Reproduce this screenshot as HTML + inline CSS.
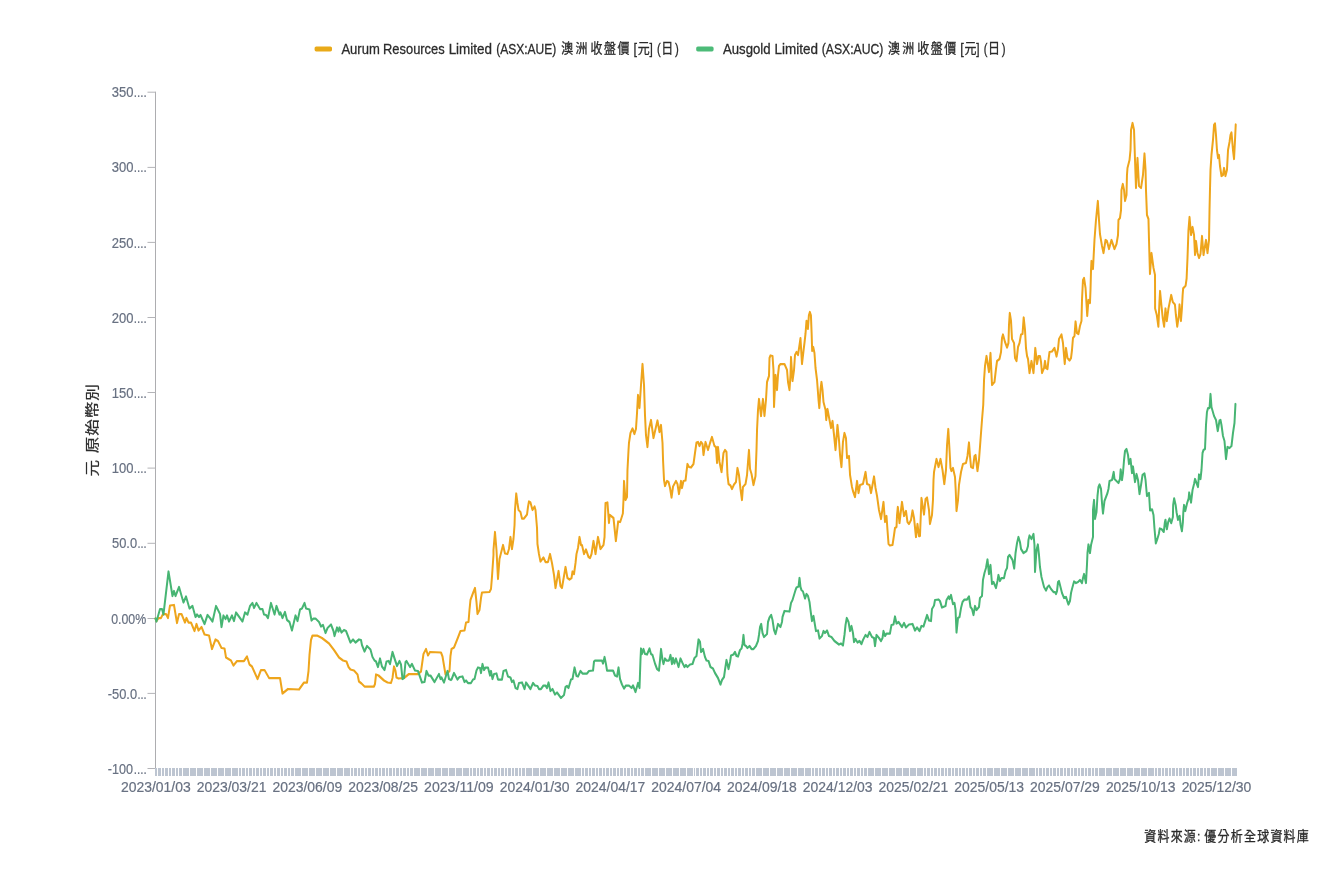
<!DOCTYPE html>
<html lang="zh-Hant">
<head>
<meta charset="utf-8">
<title>Aurum Resources Limited vs Ausgold Limited</title>
<style>
html,body{margin:0;padding:0;background:#fff;}
body{width:1320px;height:880px;overflow:hidden;}
svg{display:block;font-family:"Liberation Sans", "Noto Sans CJK TC", sans-serif;}
.lg{fill:#2b2b2b;stroke:#2b2b2b;stroke-width:0.3px;}
.ax{fill:#687182;stroke:#687182;stroke-width:0.22px;}
</style>
</head>
<body>
<svg width="1320" height="880" viewBox="0 0 1320 880">
<rect width="1320" height="880" fill="#ffffff"/>
<g id="legend">
<rect x="314.6" y="46.4" width="17.4" height="5" rx="1.6" fill="#e9aa18"/>
<text class="lg" x="341.40" y="54.0" font-size="15.3" textLength="38.41" lengthAdjust="spacingAndGlyphs">Aurum</text>
<text class="lg" x="383.05" y="54.0" font-size="15.3" textLength="61.62" lengthAdjust="spacingAndGlyphs">Resources</text>
<text class="lg" x="448.65" y="54.0" font-size="15.3" textLength="43.35" lengthAdjust="spacingAndGlyphs">Limited</text>
<text class="lg" x="496.20" y="54.0" font-size="15.3" textLength="60.12" lengthAdjust="spacingAndGlyphs">(ASX:AUE)</text>
<text class="lg" transform="translate(561.15,52.8) scale(0.886,1)" font-size="13.5" textLength="29.57" lengthAdjust="spacing">澳洲</text>
<text class="lg" transform="translate(590.50,52.8) scale(0.886,1)" font-size="13.5" textLength="44.04" lengthAdjust="spacing">收盤價</text>
<text class="lg" x="633.55" y="54.0" font-size="15.3" textLength="3.50" lengthAdjust="spacingAndGlyphs">[</text><text class="lg" transform="translate(637.80,52.8) scale(0.886,1)" font-size="13.5" textLength="11.63" lengthAdjust="spacing">元</text><text class="lg" x="649.40" y="54.0" font-size="15.3" textLength="3.31" lengthAdjust="spacingAndGlyphs">]</text>
<text class="lg" x="657.00" y="54.0" font-size="15.3" textLength="3.70" lengthAdjust="spacingAndGlyphs">(</text><text class="lg" transform="translate(661.15,52.8) scale(0.886,1)" font-size="13.5" textLength="10.50" lengthAdjust="spacing">日</text><text class="lg" x="674.95" y="54.0" font-size="15.3" textLength="3.81" lengthAdjust="spacingAndGlyphs">)</text>
<rect x="696.2" y="46.4" width="17.4" height="5" rx="1.6" fill="#4cbb78"/>
<text class="lg" x="723.00" y="54.0" font-size="15.3" textLength="47.56" lengthAdjust="spacingAndGlyphs">Ausgold</text>
<text class="lg" x="774.45" y="54.0" font-size="15.3" textLength="43.45" lengthAdjust="spacingAndGlyphs">Limited</text>
<text class="lg" x="821.70" y="54.0" font-size="15.3" textLength="61.62" lengthAdjust="spacingAndGlyphs">(ASX:AUC)</text>
<text class="lg" transform="translate(887.95,52.8) scale(0.886,1)" font-size="13.5" textLength="29.57" lengthAdjust="spacing">澳洲</text>
<text class="lg" transform="translate(917.30,52.8) scale(0.886,1)" font-size="13.5" textLength="43.96" lengthAdjust="spacing">收盤價</text>
<text class="lg" x="960.35" y="54.0" font-size="15.3" textLength="3.50" lengthAdjust="spacingAndGlyphs">[</text><text class="lg" transform="translate(964.60,52.8) scale(0.886,1)" font-size="13.5" textLength="11.63" lengthAdjust="spacing">元</text><text class="lg" x="976.20" y="54.0" font-size="15.3" textLength="3.31" lengthAdjust="spacingAndGlyphs">]</text>
<text class="lg" x="983.80" y="54.0" font-size="15.3" textLength="3.70" lengthAdjust="spacingAndGlyphs">(</text><text class="lg" transform="translate(987.95,52.8) scale(0.886,1)" font-size="13.5" textLength="10.50" lengthAdjust="spacing">日</text><text class="lg" x="1001.75" y="54.0" font-size="15.3" textLength="3.81" lengthAdjust="spacingAndGlyphs">)</text>
</g>
<g id="yaxis">
<path d="M155.5,91.7 V769.0" stroke="#adadb0" stroke-width="1" fill="none"/>
<text class="ax" x="111.75" y="96.7" font-size="15.3" textLength="21.71" lengthAdjust="spacingAndGlyphs">350</text><text class="ax" x="133.85" y="96.7" font-size="15.3" textLength="12.93" lengthAdjust="spacingAndGlyphs">....</text>
<text class="ax" x="111.75" y="171.8" font-size="15.3" textLength="21.71" lengthAdjust="spacingAndGlyphs">300</text><text class="ax" x="133.85" y="171.8" font-size="15.3" textLength="12.93" lengthAdjust="spacingAndGlyphs">....</text>
<text class="ax" x="111.75" y="247.7" font-size="15.3" textLength="21.71" lengthAdjust="spacingAndGlyphs">250</text><text class="ax" x="133.85" y="247.7" font-size="15.3" textLength="12.93" lengthAdjust="spacingAndGlyphs">....</text>
<text class="ax" x="111.75" y="322.7" font-size="15.3" textLength="21.71" lengthAdjust="spacingAndGlyphs">200</text><text class="ax" x="133.85" y="322.7" font-size="15.3" textLength="12.93" lengthAdjust="spacingAndGlyphs">....</text>
<text class="ax" x="111.75" y="397.7" font-size="15.3" textLength="21.71" lengthAdjust="spacingAndGlyphs">150</text><text class="ax" x="133.85" y="397.7" font-size="15.3" textLength="12.93" lengthAdjust="spacingAndGlyphs">....</text>
<text class="ax" x="111.75" y="472.7" font-size="15.3" textLength="21.71" lengthAdjust="spacingAndGlyphs">100</text><text class="ax" x="133.85" y="472.7" font-size="15.3" textLength="12.93" lengthAdjust="spacingAndGlyphs">....</text>
<text class="ax" x="112.00" y="547.7" font-size="15.3" textLength="25.08" lengthAdjust="spacingAndGlyphs">50.0</text><text class="ax" x="137.45" y="547.7" font-size="15.3" textLength="9.07" lengthAdjust="spacingAndGlyphs">...</text>
<text class="ax" x="111.15" y="623.7" font-size="15.3" textLength="35.01" lengthAdjust="spacingAndGlyphs">0.00%</text>
<text class="ax" x="107.75" y="698.8" font-size="15.3" textLength="29.31" lengthAdjust="spacingAndGlyphs">-50.0</text><text class="ax" x="137.45" y="698.8" font-size="15.3" textLength="9.07" lengthAdjust="spacingAndGlyphs">...</text>
<text class="ax" x="107.75" y="773.7" font-size="15.3" textLength="25.21" lengthAdjust="spacingAndGlyphs">-100</text><text class="ax" x="133.85" y="773.7" font-size="15.3" textLength="12.93" lengthAdjust="spacingAndGlyphs">....</text>
<path d="M147.5,92.2H155.5M147.5,167.4H155.5M147.5,242.4H155.5M147.5,317.5H155.5M147.5,392.5H155.5M147.5,468.1H155.5M147.5,543.3H155.5M147.5,618.5H155.5M147.5,693.4H155.5M147.5,768.5H155.5" stroke="#b4b4b8" stroke-width="1" fill="none"/>
<text class="lg" transform="translate(97.4,476.4) scale(0.83,1) rotate(-90)" font-size="16.6" textLength="92.2" lengthAdjust="spacing">元 原始幣別</text>
</g>
<g id="xaxis">
<rect x="155" y="768" width="1082" height="8" fill="#bdc5d1"/>
<path d="M157.5,767.5v9M161.5,767.5v9M164.5,767.5v9M168.5,767.5v9M171.5,767.5v9M175.5,767.5v9M178.5,767.5v9M182.5,767.5v9M189.5,767.5v9M196.5,767.5v9M203.5,767.5v9M210.5,767.5v9M217.5,767.5v9M224.5,767.5v9M231.5,767.5v9M238.5,767.5v9M241.5,767.5v9M245.5,767.5v9M248.5,767.5v9M252.5,767.5v9M255.5,767.5v9M259.5,767.5v9M262.5,767.5v9M266.5,767.5v9M269.5,767.5v9M273.5,767.5v9M276.5,767.5v9M280.5,767.5v9M283.5,767.5v9M287.5,767.5v9M290.5,767.5v9M294.5,767.5v9M301.5,767.5v9M308.5,767.5v9M315.5,767.5v9M322.5,767.5v9M329.5,767.5v9M336.5,767.5v9M343.5,767.5v9M350.5,767.5v9M353.5,767.5v9M357.5,767.5v9M360.5,767.5v9M364.5,767.5v9M367.5,767.5v9M371.5,767.5v9M374.5,767.5v9M378.5,767.5v9M381.5,767.5v9M385.5,767.5v9M388.5,767.5v9M392.5,767.5v9M395.5,767.5v9M399.5,767.5v9M402.5,767.5v9M406.5,767.5v9M409.5,767.5v9M413.5,767.5v9M420.5,767.5v9M427.5,767.5v9M434.5,767.5v9M441.5,767.5v9M448.5,767.5v9M455.5,767.5v9M462.5,767.5v9M469.5,767.5v9M472.5,767.5v9M476.5,767.5v9M479.5,767.5v9M483.5,767.5v9M486.5,767.5v9M490.5,767.5v9M493.5,767.5v9M497.5,767.5v9M500.5,767.5v9M504.5,767.5v9M507.5,767.5v9M511.5,767.5v9M514.5,767.5v9M518.5,767.5v9M521.5,767.5v9M525.5,767.5v9M532.5,767.5v9M539.5,767.5v9M546.5,767.5v9M553.5,767.5v9M560.5,767.5v9M567.5,767.5v9M574.5,767.5v9M581.5,767.5v9M584.5,767.5v9M588.5,767.5v9M591.5,767.5v9M595.5,767.5v9M598.5,767.5v9M602.5,767.5v9M605.5,767.5v9M609.5,767.5v9M612.5,767.5v9M616.5,767.5v9M619.5,767.5v9M623.5,767.5v9M626.5,767.5v9M630.5,767.5v9M633.5,767.5v9M637.5,767.5v9M640.5,767.5v9M644.5,767.5v9M651.5,767.5v9M658.5,767.5v9M665.5,767.5v9M672.5,767.5v9M679.5,767.5v9M686.5,767.5v9M693.5,767.5v9M695.5,767.5v9M699.5,767.5v9M702.5,767.5v9M706.5,767.5v9M709.5,767.5v9M713.5,767.5v9M716.5,767.5v9M720.5,767.5v9M723.5,767.5v9M727.5,767.5v9M730.5,767.5v9M734.5,767.5v9M737.5,767.5v9M741.5,767.5v9M744.5,767.5v9M748.5,767.5v9M751.5,767.5v9M755.5,767.5v9M762.5,767.5v9M769.5,767.5v9M776.5,767.5v9M783.5,767.5v9M790.5,767.5v9M797.5,767.5v9M804.5,767.5v9M811.5,767.5v9M814.5,767.5v9M818.5,767.5v9M821.5,767.5v9M825.5,767.5v9M828.5,767.5v9M832.5,767.5v9M835.5,767.5v9M839.5,767.5v9M842.5,767.5v9M846.5,767.5v9M849.5,767.5v9M853.5,767.5v9M856.5,767.5v9M860.5,767.5v9M863.5,767.5v9M867.5,767.5v9M874.5,767.5v9M881.5,767.5v9M888.5,767.5v9M895.5,767.5v9M902.5,767.5v9M909.5,767.5v9M916.5,767.5v9M923.5,767.5v9M926.5,767.5v9M930.5,767.5v9M933.5,767.5v9M937.5,767.5v9M940.5,767.5v9M944.5,767.5v9M947.5,767.5v9M951.5,767.5v9M954.5,767.5v9M958.5,767.5v9M961.5,767.5v9M965.5,767.5v9M968.5,767.5v9M972.5,767.5v9M975.5,767.5v9M979.5,767.5v9M982.5,767.5v9M986.5,767.5v9M993.5,767.5v9M1000.5,767.5v9M1007.5,767.5v9M1014.5,767.5v9M1021.5,767.5v9M1028.5,767.5v9M1035.5,767.5v9M1038.5,767.5v9M1042.5,767.5v9M1045.5,767.5v9M1049.5,767.5v9M1052.5,767.5v9M1056.5,767.5v9M1059.5,767.5v9M1063.5,767.5v9M1066.5,767.5v9M1070.5,767.5v9M1073.5,767.5v9M1077.5,767.5v9M1080.5,767.5v9M1084.5,767.5v9M1087.5,767.5v9M1091.5,767.5v9M1094.5,767.5v9M1098.5,767.5v9M1105.5,767.5v9M1112.5,767.5v9M1119.5,767.5v9M1126.5,767.5v9M1133.5,767.5v9M1140.5,767.5v9M1147.5,767.5v9M1154.5,767.5v9M1157.5,767.5v9M1161.5,767.5v9M1164.5,767.5v9M1168.5,767.5v9M1171.5,767.5v9M1175.5,767.5v9M1178.5,767.5v9M1182.5,767.5v9M1185.5,767.5v9M1189.5,767.5v9M1192.5,767.5v9M1196.5,767.5v9M1199.5,767.5v9M1203.5,767.5v9M1206.5,767.5v9M1210.5,767.5v9M1217.5,767.5v9M1224.5,767.5v9M1231.5,767.5v9" stroke="#ffffff" stroke-width="1" fill="none"/>
<text class="ax" x="121.00" y="791.6" font-size="15.3" textLength="69.71" lengthAdjust="spacingAndGlyphs">2023/01/03</text>
<text class="ax" x="196.76" y="791.6" font-size="15.3" textLength="69.71" lengthAdjust="spacingAndGlyphs">2023/03/21</text>
<text class="ax" x="272.52" y="791.6" font-size="15.3" textLength="69.71" lengthAdjust="spacingAndGlyphs">2023/06/09</text>
<text class="ax" x="348.28" y="791.6" font-size="15.3" textLength="69.71" lengthAdjust="spacingAndGlyphs">2023/08/25</text>
<text class="ax" x="424.04" y="791.6" font-size="15.3" textLength="69.71" lengthAdjust="spacingAndGlyphs">2023/11/09</text>
<text class="ax" x="499.80" y="791.6" font-size="15.3" textLength="69.71" lengthAdjust="spacingAndGlyphs">2024/01/30</text>
<text class="ax" x="575.56" y="791.6" font-size="15.3" textLength="69.71" lengthAdjust="spacingAndGlyphs">2024/04/17</text>
<text class="ax" x="651.32" y="791.6" font-size="15.3" textLength="69.71" lengthAdjust="spacingAndGlyphs">2024/07/04</text>
<text class="ax" x="727.08" y="791.6" font-size="15.3" textLength="69.71" lengthAdjust="spacingAndGlyphs">2024/09/18</text>
<text class="ax" x="802.84" y="791.6" font-size="15.3" textLength="69.71" lengthAdjust="spacingAndGlyphs">2024/12/03</text>
<text class="ax" x="878.60" y="791.6" font-size="15.3" textLength="69.71" lengthAdjust="spacingAndGlyphs">2025/02/21</text>
<text class="ax" x="954.36" y="791.6" font-size="15.3" textLength="69.71" lengthAdjust="spacingAndGlyphs">2025/05/13</text>
<text class="ax" x="1030.12" y="791.6" font-size="15.3" textLength="69.71" lengthAdjust="spacingAndGlyphs">2025/07/29</text>
<text class="ax" x="1105.88" y="791.6" font-size="15.3" textLength="69.71" lengthAdjust="spacingAndGlyphs">2025/10/13</text>
<text class="ax" x="1181.64" y="791.6" font-size="15.3" textLength="69.71" lengthAdjust="spacingAndGlyphs">2025/12/30</text>
</g>
<g id="source">
<text class="lg" transform="translate(1144.25,840.85) scale(0.886,1)" font-size="13.5" textLength="63.37" lengthAdjust="spacing">資料來源:</text>
<text class="lg" transform="translate(1204.25,840.85) scale(0.886,1)" font-size="13.5" textLength="118.02" lengthAdjust="spacing">優分析全球資料庫</text>
</g>
<g id="series" transform="scale(0.885,1)" fill="none" stroke-width="2.25" stroke-linejoin="round" stroke-linecap="round">
<path d="M175.7,618.5 L176.8,621 L179.1,618 L181.9,618 L184.2,614 L187.6,614 L189.8,618 L192.1,605.5 L196.6,605 L200,623 L202.3,614 L205.1,614 L209,622.5 L210.7,618 L213,622.5 L215.8,622.5 L219.8,631 L222,624 L224.3,630.5 L227.7,627 L231.1,634.5 L236.2,635.5 L239.5,649 L243.5,639.5 L246.3,641 L250.3,648 L253.7,648.5 L255.4,657.5 L261,660.5 L263.8,665.5 L267.8,661 L275.7,661 L279.1,656.5 L281.9,664.5 L284.7,666.5 L291,679 L294.9,670 L298.9,670 L304,678 L316.4,678 L319.2,693.5 L325.4,689 L337.9,689.5 L343.5,682.5 L346.9,682.5 L348.6,671 L349.7,655 L351.4,640 L353.1,635.5 L358.2,635.5 L363.8,638 L371.8,643.5 L377.4,650 L383.1,657.5 L387.6,660.5 L391.5,661.5 L393.8,667 L396,669.5 L400,670.5 L404,674.5 L405.6,681.5 L408.5,683.5 L411.9,686.5 L422.6,686.5 L423.7,684 L424.9,674.5 L427.7,675.5 L433.9,680.5 L437.9,682.5 L441.8,683 L443.5,678 L445.2,666.5 L446.9,671 L448,677.5 L450.3,678.5 L456.5,678 L462.1,674 L472.3,674 L475.7,671.5 L478.5,654 L481.4,649 L483.6,655.5 L485.9,652 L498.3,652.5 L500,656.5 L503.4,674.5 L507.9,671 L509,656 L510.2,649 L513,647.5 L517.5,637.5 L520.3,631 L524.9,630.5 L526.6,622.5 L529.4,622 L530.5,610 L531.6,600 L534.5,593 L536.7,588 L538.4,602 L539.5,614 L541.8,610 L543.5,598 L544.6,592.5 L553.1,592 L554.8,589 L555.9,577 L557.6,555 L557.6,550 L559.3,532 L561,550 L562.7,579 L564.4,559 L568.4,545 L570.6,553.5 L573.4,554 L575.1,549 L576.8,537 L578.5,549 L580.2,539 L581.4,525 L581.9,510 L583.3,493.5 L584.7,503 L585.9,510 L588.1,512 L589.8,518.5 L592.1,518.5 L595.5,514.5 L596.6,507 L597.7,501.5 L599.4,502.5 L601.7,510 L604,506.5 L605.1,510 L606.8,528 L607.3,544 L609,554 L610.7,561.5 L614.1,557.5 L616.4,562 L619.2,562 L621.5,554 L623.7,563 L623.7,563 L626,575 L627.7,588 L631.1,571 L633.3,586 L635,588 L639,567 L641.2,578 L643.5,579.5 L645.8,578 L646.9,571.5 L648.6,574 L650.3,563 L651.4,554 L653.1,548 L654.8,537 L656.5,545 L657.6,545 L659.9,554 L662.1,549.5 L665,557 L666.7,558 L668.4,554 L670.6,541 L672.9,554 L675.7,537 L678.5,549 L681.9,545 L683.1,537 L683.6,520 L684.2,503 L686.4,502.5 L688.1,523 L689,514.8 L693.2,518 L695.9,541 L698.5,521.5 L700.8,522 L703.8,513.5 L704.5,500 L705.1,481 L706.8,500 L708.5,497 L709,470 L710.2,450 L710.7,443 L712.4,433 L714.7,428.5 L716.9,434 L718.6,429 L719.8,413 L720.9,395 L722.6,408 L724.3,385 L726,364 L727.7,385 L728.8,415 L729.9,435 L731.6,447 L733.3,429 L735.6,420 L738.4,438 L741.2,427 L742.9,420.5 L745.2,432 L746.9,425 L748.6,443 L749.2,460 L750.3,480 L751.4,486 L753.7,481 L755.4,482 L757.1,488 L758.8,497.5 L760.5,486.5 L763.8,481 L765.5,484 L767.2,494 L769.5,481 L770.6,488 L772.3,481 L774.6,480.5 L775.7,472 L776.8,464 L778.5,467 L780.8,467.5 L783.6,464 L785.3,453 L787,442.5 L788.7,442 L790.4,446 L792.1,442 L793.8,444 L794.9,455 L797.2,442 L800,450 L802.3,443 L804.5,437 L807.3,446 L809,447 L810.2,463 L811.3,447 L813,462 L815.3,472 L817.5,453 L819.2,450 L820.9,452 L822,475 L823.2,484 L825.4,485.5 L827.1,489 L829.4,484.5 L831.6,482 L833.3,468 L835,475 L836.7,489 L838.4,500 L839.5,487 L842.4,484 L844.1,475 L845.2,462 L846.3,450 L847.5,469 L849.2,474 L851.4,485 L853.7,476 L854.8,450 L855.4,430 L856.5,410 L857.6,399 L859.9,416 L862.1,399 L863.8,416 L865.5,400 L866.7,382 L868.9,376 L869.5,358 L870.6,355.5 L872.9,356 L874,370 L874.6,407 L876.3,375 L878,390 L879.1,375 L880.2,366 L881.9,364 L886.4,364 L889.3,370 L890.4,382 L892.1,390 L893.2,375 L893.8,357 L895.5,381 L897.2,370 L898.3,355 L900,352 L901.7,355 L903.4,345 L904.5,338.2 L906.2,364 L907.9,351 L909,343 L910.2,333.5 L911.3,320.8 L912.9,328.8 L914,315.4 L915.1,312 L916.3,315.4 L917.1,333.5 L917.7,351 L918.9,347 L920.3,353 L921.5,368 L923.2,380 L924.9,400 L925.8,408 L927.1,390 L928.2,382 L929.4,390 L930.5,402 L932.8,410 L933.6,420 L935,409 L937.3,420 L939,428 L940.7,421 L942.4,435 L944.1,450 L946.3,425 L948,440 L949.2,455 L950.8,467 L952.5,442 L954.2,433 L955.9,438 L957.1,458 L959.3,456 L960.5,475 L962.7,487 L963.8,491 L966.1,497 L968.4,481 L970.1,493 L971.8,485 L975.1,484 L978,472 L979.7,484 L982.5,485 L984.2,493 L987.6,476.5 L989.3,488 L991,496 L993.2,510 L995.5,519 L998.3,502 L1000,522 L1001.7,516 L1002.8,530 L1004,544 L1005.6,545.5 L1008.5,545 L1010.2,535 L1011.3,528 L1013,527 L1013.6,515 L1014.5,507 L1016.4,523 L1018.1,510 L1019.2,502 L1021.5,516 L1023.7,511 L1025.4,522 L1027.1,524 L1029.4,520 L1031.1,510.5 L1032.8,518 L1035,537 L1036.7,524 L1038.4,536 L1039.5,536 L1040.7,510 L1041.2,498 L1044.1,514.5 L1045.8,499 L1047.5,497.5 L1049.7,510 L1050.8,524 L1053.1,515 L1054.2,500 L1054.8,480 L1055.4,472 L1058.2,459 L1060.5,467 L1062.7,459 L1065,470 L1067,484 L1068.9,470 L1070.1,445 L1071.5,429 L1072.9,450 L1074,468 L1075.1,471 L1076.8,468 L1079.1,477 L1079.9,490 L1080.8,511 L1082.5,500 L1083.6,485 L1085.9,472 L1088.1,464 L1091.5,463 L1093.2,456 L1094.9,442.5 L1096,456 L1097.2,467 L1099.4,468 L1101.1,456 L1102.3,455 L1104.5,471 L1106.2,460 L1107.9,440 L1109.6,420 L1111,405 L1111.9,380 L1113,366 L1114.7,356 L1117.5,372 L1119.2,353 L1120.9,385 L1123.7,382 L1125.4,369 L1126.6,361 L1129.4,359 L1131.1,352 L1132.2,338 L1133.3,334.5 L1135.6,342 L1137.9,347.5 L1139.5,343 L1140.1,325 L1141,313 L1142.4,321 L1143.5,339 L1145.8,343 L1146.9,358 L1148.6,361 L1150.3,347 L1152,343 L1153.7,334.5 L1155.4,334 L1156.7,317.5 L1158.2,330 L1159.3,348 L1160.5,356 L1161.6,359 L1163.3,373 L1165.5,361 L1167.8,373 L1168.9,360 L1169.8,348 L1171.8,364 L1173.4,356 L1175.1,356 L1176.3,362 L1177.4,373 L1179.7,368 L1180.8,361 L1181.9,368 L1183.6,369 L1184.7,360 L1185.9,352 L1188.7,351.5 L1191.5,348 L1193.8,356.5 L1195.5,349 L1196.6,339 L1199.4,334.5 L1201.1,343 L1202.3,356 L1203.1,364 L1204.5,348 L1206.2,358 L1208.5,360.5 L1210.2,358 L1211.3,350 L1212.4,338 L1214.1,336 L1215.3,321.5 L1216.9,333 L1218.6,334 L1220.3,326 L1222,321 L1222.6,300 L1223.7,280 L1224.9,278 L1226.6,288 L1227.7,304 L1228.5,316 L1229.9,300 L1231.6,303 L1232.2,290 L1232.8,270 L1233.3,261 L1235,269 L1236.7,240 L1238.4,220 L1240.5,201 L1241.8,220 L1242.9,234 L1245.2,246 L1246.9,253 L1249.2,240 L1250.8,241 L1253.1,249 L1255.9,240 L1259.3,249 L1261.6,244 L1263.3,235 L1263.8,220 L1265.5,218 L1266.7,210 L1267.2,190 L1268.7,184 L1270.1,190 L1271.2,201 L1272.9,195 L1273.4,175 L1274,168 L1276.3,160 L1277.4,150 L1278,130 L1279.7,123 L1281.4,130 L1282.5,160 L1283.6,188 L1285.3,158 L1287,186 L1289.3,188 L1291.5,175 L1293.2,153.5 L1294.4,170 L1294.9,190 L1296,215 L1297.7,219 L1298.3,240 L1299.4,274 L1301.1,253 L1303.4,268 L1305.1,275 L1305.2,308.5 L1307.1,315 L1308.9,326.6 L1310.1,302 L1310.8,291 L1312.3,305 L1313.9,318.5 L1315.4,326.6 L1316.9,308.5 L1318.4,321 L1320.3,308.5 L1321.8,302 L1323.4,295 L1325.2,302 L1327.6,304.5 L1328.7,315 L1330.2,326.6 L1332.1,315 L1332.8,304.5 L1334.4,321 L1335.5,308.5 L1336.3,295 L1336.9,288.4 L1339.7,285.7 L1340.8,278.5 L1341.8,258 L1342.9,230 L1344.1,217 L1345.8,235 L1347.5,227 L1349.2,235 L1350.3,255 L1351.4,241 L1353.1,253 L1354.8,258 L1356.5,254 L1358.2,236 L1359.9,255 L1362.7,240 L1364.4,253 L1366.1,240 L1366.7,210 L1367.2,190 L1367.8,170 L1368.9,155 L1370.6,140 L1371.8,125 L1372.9,123.5 L1374,135 L1375.1,150 L1376.3,158 L1377.4,155 L1378.5,166 L1380.2,176 L1381.9,175 L1383.1,168 L1384.7,176 L1386.4,170 L1387.6,150 L1389.3,142 L1390.4,135 L1391.5,132.5 L1393.2,150 L1394.4,159 L1395.5,140 L1396.3,124.5" stroke="#eea51c"/>
<path d="M175.7,618.5 L176.8,621.5 L180.8,609 L183.1,609 L184.7,614.5 L190.4,571.5 L194.9,596 L196.6,591 L198.3,596 L202.3,587 L207.3,602.5 L210.2,596.5 L214.1,608.5 L217.5,606 L220.9,617 L222.6,614.5 L224.9,617 L226.6,615 L231.1,624 L234.5,615 L237.3,618 L240.1,621.5 L244.1,606 L248.6,614 L250.3,627 L252.5,615.5 L254.8,619 L256.5,615.5 L258.8,621.5 L262.1,615.5 L264.4,621 L266.7,612.5 L274,621.5 L276.8,612.5 L279.7,614.5 L282.5,606 L285.3,603 L287,608 L289.8,603 L293.8,609 L296.6,609 L298.3,614.5 L300.6,615 L302.8,618 L306.2,603 L310.2,614.5 L312.4,606 L315.8,614.5 L316.9,612.5 L319.2,618 L322,612 L324.3,620 L327.1,622 L329.9,630.5 L333.9,615.5 L336.2,621 L339,609.5 L341.2,608.5 L344.1,603 L345.8,608.5 L349.7,609.5 L352,620.5 L354.2,618.5 L356.5,618.5 L360.5,622 L362.7,626.5 L365,625 L367.8,633 L370.1,628 L374,624.5 L376.8,631 L378,636 L380.8,627.5 L382.5,631.5 L383.6,627.5 L385.9,632.5 L388.7,630 L391,631 L396,642.5 L398.9,639.5 L401.7,642.5 L405.6,639.5 L407.9,640 L409,645 L411.9,651.5 L414.7,646 L418.6,649.5 L420.9,657 L423.2,660.5 L424.9,661.5 L427.1,667 L429.4,658.5 L431.6,666.5 L434.5,670 L436.7,661.5 L439,661 L440.7,664 L443.5,652 L445.8,658.5 L448.6,666 L451.4,661 L453.1,664.5 L454.8,679 L456.5,678 L458.2,662 L459.3,661 L463.3,667 L465.5,664 L468.9,670.5 L472.3,671 L476.8,682.5 L479.7,682 L481.9,671 L484.2,675.5 L486.4,675.5 L491,682 L496,674 L497.7,679 L498.9,677.5 L501.7,682.5 L505.6,671 L507.3,679 L509.6,680 L510.2,679.5 L513,673 L516.9,679.5 L519.2,677 L522.6,676.5 L524.9,682 L526.6,680.5 L528.8,683 L532.2,683 L534.5,679.5 L536.2,679 L538.4,670.5 L540.1,667.5 L542.4,668 L543.5,673 L545.2,664 L546.9,670 L548.6,667.5 L551.4,667.5 L553.7,675.5 L554.8,671 L556.5,679 L558.2,674 L561,673.5 L562.7,679.5 L567.2,679.5 L568.9,671 L571.8,670 L574,676.5 L576.8,677.5 L578.5,682 L580.2,680.5 L582.5,688 L584.7,689 L586.4,683 L589.8,682.5 L592.7,689 L594.4,682.5 L599.4,689 L602.3,683 L604.5,685.5 L607.3,686 L609,689 L611.3,689 L614.1,685.5 L616.4,685.5 L618.1,688 L619.8,682.5 L622,691 L624.3,689 L627.1,694.5 L629.4,692.5 L633.9,698 L637.3,695 L639,687 L640.7,686 L642.4,688 L645.2,679.5 L646.9,679 L649.2,667.5 L651.4,676 L653.1,676.5 L655.9,671 L658.2,673.5 L663.3,673.5 L665.5,671 L670.1,670.5 L671.2,661.5 L672.3,660.5 L680.2,660.5 L681.4,663.5 L683.1,657 L684.7,664 L685.9,670.5 L692.7,670.5 L694.9,675.5 L697.2,676.5 L698.9,667.5 L700.6,679 L702.8,684.5 L705.1,688.5 L707.3,685.5 L710.7,685.5 L713.6,688 L715.3,685.5 L718.1,692 L720.9,683 L722.6,688 L723.7,660 L724.3,648.5 L725.4,654 L727.1,649 L728.8,654 L731.1,654.5 L733.9,648.5 L735.6,654 L737.3,655 L740.1,663.5 L742.4,669 L744.6,670.5 L745.8,660 L746.9,649 L748.6,660 L749.7,664 L751.4,658.5 L753.1,660.5 L755.9,660.5 L757.6,655 L759.3,664 L760.5,658 L762.1,663.5 L763.8,658.5 L766.7,667 L768.9,658.5 L771.2,663 L773.4,667 L775.1,665 L776.8,667 L779.7,664.5 L782.5,664 L784.7,658 L787,656 L789.3,639.5 L791,642 L792.1,652 L794.4,649 L796.6,657 L798.3,660.5 L800.6,661 L802.8,667 L805.6,668.5 L807.9,673 L811.3,678 L814.1,684.5 L815.8,680 L818.1,677 L819.2,670 L820.9,660 L823.2,669 L824.9,662 L826,655.5 L828.8,654.5 L830.5,652 L832.2,656 L833.9,656.5 L836.2,650 L837.9,648.5 L839,644 L840.1,635 L841.2,645 L842.9,646 L844.6,648 L846.9,646 L849.2,649 L851.4,649 L854.2,646 L856.5,641 L857.6,635 L858.8,627 L860.1,624 L861.6,633 L863.3,637 L866.7,634 L867.8,622 L869.5,617.5 L871.4,615 L872.9,620 L874.6,630 L876.3,634 L879.1,624 L881.9,627 L883.6,622 L884.2,617 L886.4,611 L892.1,611.5 L893.8,603 L895.5,600 L898.9,590 L900,587.5 L902.3,586.5 L903.4,578 L904.5,587 L905.6,590 L907.3,591.5 L909.6,598.5 L911.3,594 L913,596 L914.7,602 L915.8,610 L917.5,621 L919.2,616 L920.3,622 L922,631 L924.3,630.5 L926,638.5 L928.8,636 L930.5,631 L932.2,633 L934.5,630.5 L936.7,636 L939.5,637 L942.9,641 L948,644.5 L950.3,643.5 L952.5,645.5 L954.2,635 L955.4,625 L956.8,618 L958.8,622 L960.5,631 L962.1,626 L963.8,633 L965,642 L966.7,639 L968.9,642.5 L971.2,641 L973.4,644 L975.1,640 L978,635 L980.2,637 L982.5,632 L985.3,637 L987.6,638 L988.7,646 L990.4,635 L993.2,638 L995.5,641 L997.2,638 L998.3,631 L1000,636 L1001.7,633.5 L1005.6,633.5 L1007.3,625 L1009.6,624.5 L1011.3,616.5 L1013,623.5 L1015.3,622 L1019.2,627 L1021.5,623 L1023.7,627.5 L1027.1,624.5 L1031.1,624 L1033.9,630.5 L1036.2,627.5 L1039,631 L1041.2,626 L1043.5,626.5 L1045.8,620 L1047.5,615 L1049.7,620.5 L1052,621 L1053.1,609 L1055.4,605.5 L1056.5,600 L1060.5,599.5 L1062.1,601 L1064.4,607.5 L1068.4,606 L1069.5,600 L1071.8,596.5 L1072.9,599 L1074.6,595 L1076.8,604 L1078.5,603 L1079.7,610 L1080.8,632.5 L1082.5,618 L1084.2,617 L1085.9,608 L1087.6,602 L1089.8,599.5 L1092.7,599.5 L1094.9,596.5 L1096.6,607 L1098.3,609 L1100,615 L1101.7,606 L1103.4,610 L1106.2,607 L1107.3,598 L1109.6,596 L1110.7,580 L1112.4,573 L1114.1,568 L1115.8,559.5 L1117.5,574 L1119.2,565 L1120.9,584 L1122.6,582 L1125.4,588 L1127.1,581 L1128.2,575 L1129.9,581 L1131.6,578 L1134.5,578 L1136.2,571 L1137.9,568 L1139,557 L1140.7,555 L1144.1,560 L1146,568.5 L1147.5,553 L1149.2,543 L1150.8,537 L1152.5,542 L1153.7,549 L1156.5,553 L1159.9,551 L1161.6,546 L1162.1,540 L1163.3,535.5 L1165.5,539 L1167.8,534 L1168.9,545 L1169.5,572 L1171.2,550 L1172.7,544.5 L1174,555 L1175.1,567 L1176.8,577 L1179.7,587 L1181.9,590.5 L1183.6,587 L1185.3,585.5 L1187.6,589 L1190.4,592 L1192.1,592 L1193.2,594 L1194.4,591 L1195.5,582 L1196.6,581 L1198.3,587 L1200,593 L1202.3,598 L1204.5,597 L1207.3,604.5 L1209,601 L1210.2,593 L1211.3,589 L1213.6,581.5 L1215.8,583 L1218.1,582 L1220.3,580 L1222.6,583 L1223.7,578 L1224.9,574 L1227.1,583 L1228.2,565 L1228.8,553 L1229.9,544.5 L1231.6,553 L1232.8,545 L1235,537 L1235,510 L1236.2,500 L1237.3,519 L1239,512 L1240.1,496 L1241.2,487 L1242.4,484.5 L1244.1,489 L1245.2,503 L1246.3,513.5 L1248,501 L1251.4,493 L1252.5,489 L1253.7,481 L1256.5,480 L1258.4,472 L1259.3,479 L1263.8,483 L1265.5,479 L1266.3,469.5 L1267.8,480 L1268.9,473 L1270.1,460 L1271.2,451 L1272.9,449 L1274.6,455 L1275.7,464 L1277.4,459 L1279.1,473 L1280.2,466.5 L1282.5,482 L1284.2,474 L1285.9,480 L1287.6,494 L1289.3,485 L1291,475 L1293.2,473.5 L1294.4,480 L1296,496 L1298.3,493 L1299.5,510.4 L1301.8,509.4 L1303.4,515 L1304.5,528.5 L1306,543.3 L1307.9,538.5 L1309.4,534 L1310.5,528.5 L1312.4,529 L1315,531.9 L1316.3,522 L1316.9,519.8 L1318.5,529.2 L1320,522 L1321.5,518.5 L1323.4,523.2 L1325.3,517 L1325.6,505 L1326.7,498.4 L1328.4,505 L1329.5,512.5 L1331,519.8 L1332.9,515.8 L1334,525 L1335.5,531.2 L1336.6,522 L1337.1,512 L1337.9,505 L1339.3,511 L1341.2,503.7 L1343.1,498.4 L1343.7,492.5 L1345.8,502.5 L1347.5,490 L1349.2,484 L1350.3,479 L1353.7,487 L1354.8,474.5 L1356.5,479 L1357.6,470 L1358.8,453 L1359.9,450 L1361.6,449 L1362.7,425 L1363.8,412 L1365,408 L1366.7,408 L1367.8,394 L1368.9,407 L1371.8,416 L1374,420 L1376,431 L1378,420.5 L1379.1,420 L1380.2,425 L1381.9,436 L1383.6,441 L1385.3,459 L1387,447 L1389.3,448 L1391.5,446 L1393.2,433 L1394.9,423 L1396,404" stroke="#47b573"/>
</g>
</svg>
</body>
</html>
